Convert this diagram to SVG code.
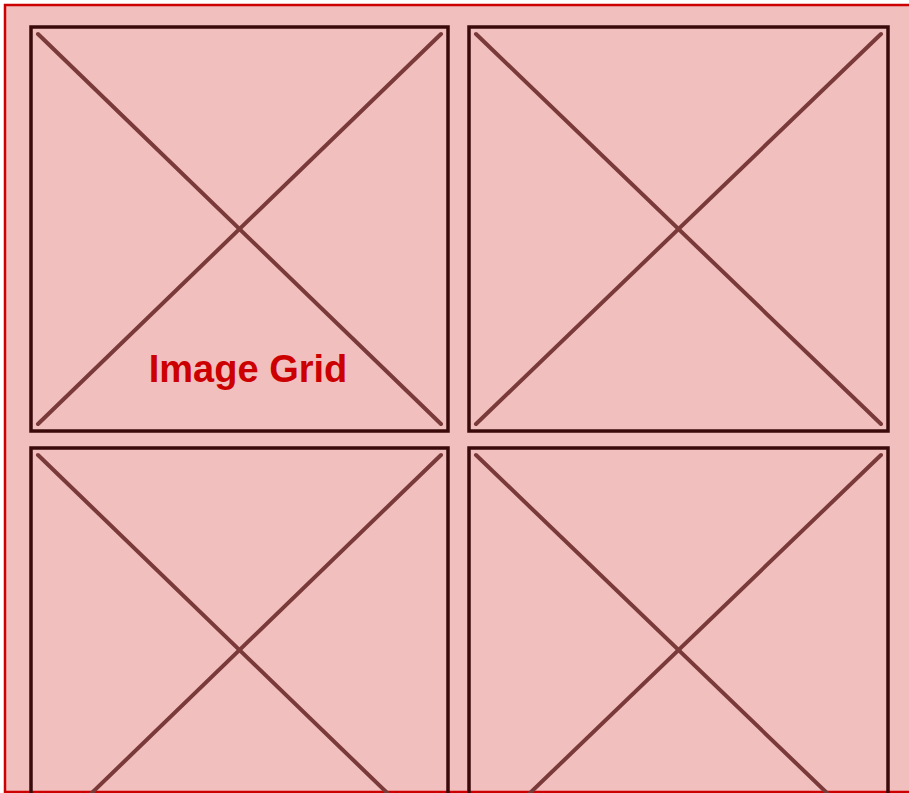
<svg xmlns="http://www.w3.org/2000/svg" width="909" height="793" viewBox="0 0 909 793">
<style>
.bg{fill:#f2bfbf;stroke:#cc0000;stroke-width:2.5}
.box{fill:none;stroke:#3a0a0a;stroke-width:3.5}
.x{stroke:#7a3a3a;stroke-width:4;stroke-linecap:round;fill:none}
.t{font-family:"Liberation Sans",Arial,sans-serif;font-size:38px;font-weight:bold;fill:#cc0000;text-anchor:middle}
</style>
<g id="container">
<rect class="bg" x="5" y="5" width="930" height="787"/>
</g>
<g id="img1">
<rect class="box" x="31" y="27" width="417" height="404"/>
<line class="x" x1="38" y1="34" x2="441" y2="424"/>
<line class="x" x1="441" y1="34" x2="38" y2="424"/>
</g>
<g id="img2">
<rect class="box" x="469" y="27" width="419" height="404"/>
<line class="x" x1="476" y1="34" x2="881" y2="424"/>
<line class="x" x1="881" y1="34" x2="476" y2="424"/>
</g>
<g id="img3">
<rect class="box" x="31" y="448" width="417" height="404"/>
<line class="x" x1="38" y1="455" x2="441" y2="845"/>
<line class="x" x1="441" y1="455" x2="38" y2="845"/>
</g>
<g id="img4">
<rect class="box" x="469" y="448" width="419" height="404"/>
<line class="x" x1="476" y1="455" x2="881" y2="845"/>
<line class="x" x1="881" y1="455" x2="476" y2="845"/>
</g>
<g id="label">
<text class="t" x="248" y="382">Image Grid</text>
</g>
</svg>
